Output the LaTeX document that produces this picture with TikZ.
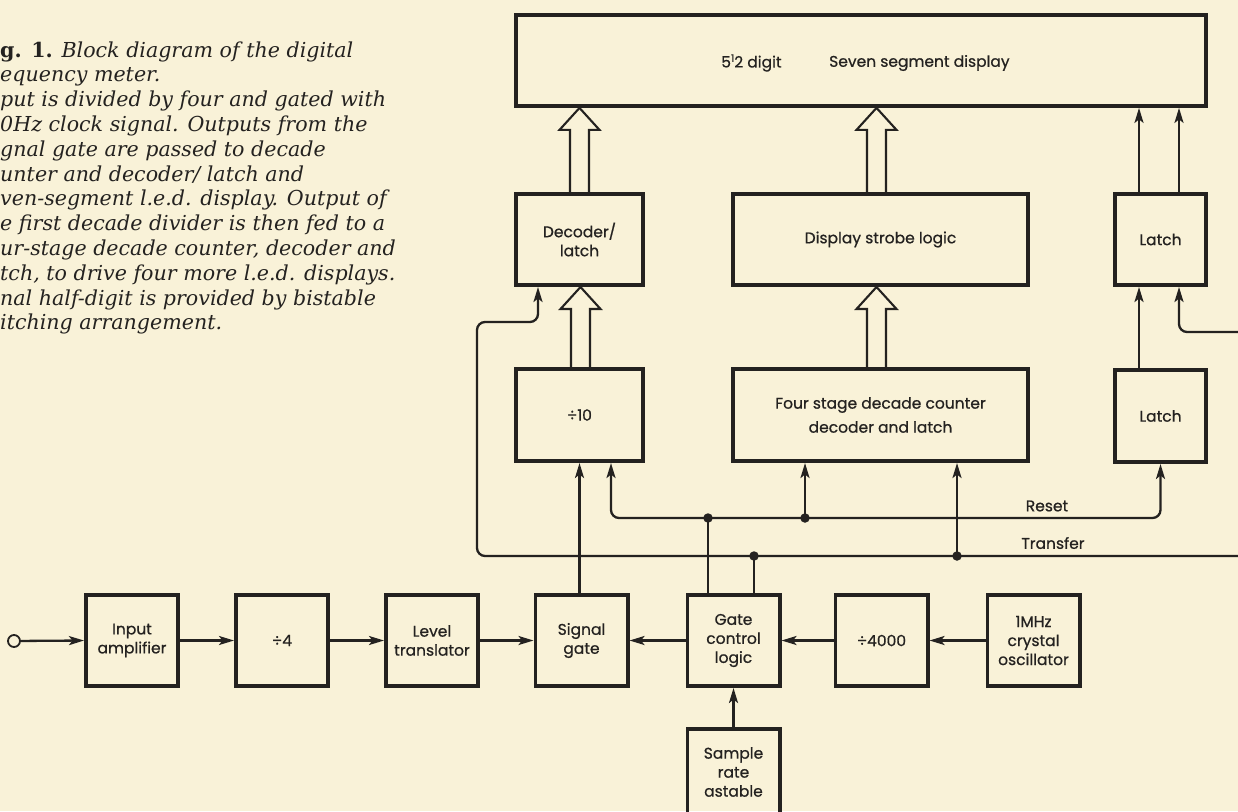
\documentclass[tikz,border=0pt]{standalone}
\usepackage{fontspec}
\setmainfont{DejaVu Serif}
\newfontfamily\diag[FakeBold=0.7]{Poppins}
\usetikzlibrary{arrows.meta,calc}
\definecolor{paper}{RGB}{249,242,216}
\definecolor{ink}{RGB}{36,34,32}
\newcommand{\hollowup}[2]{%
  \draw[hollow] ($(#1)+(-9.5,0)$) -- ($(#2)+(-9.5,22)$) -- ($(#2)+(-20,22)$) -- (#2)
    -- ($(#2)+(20,22)$) -- ($(#2)+(9.5,22)$) -- ($(#1)+(9.5,0)$);}
\begin{document}
\begin{tikzpicture}[x=1pt,y=-1pt,
  box/.style={draw=ink, line width=3.8pt, inner sep=0pt, align=center, text=ink,
    font=\diag\fontsize{15.5}{19}\selectfont},
  conn/.style={draw=ink, line width=2.3pt},
  arr/.style={conn, -{Stealth[length=15pt,width=9pt,inset=3.5pt]}},
  hollow/.style={draw=ink, line width=2.1pt, line join=miter},
  dot/.style={circle, fill=ink, inner sep=0pt, minimum size=9.5pt},
  lbl/.style={inner sep=0pt, text=ink, font=\diag\fontsize{15.5}{19}\selectfont},
  capt/.style={inner sep=0pt, text=ink, anchor=base west, font=\itshape\fontsize{20.6}{25}\selectfont}]
\fill[paper] (0,0) rectangle (1238,811);
\useasboundingbox (0,0) rectangle (1238,811);

% caption
\node[capt] (cap1) at (0,57) {{\upshape\bfseries g. 1.} Block diagram of the digital};
\node[capt] (cap2) at (0,81.8) {equency meter.};
\node[capt] (cap3) at (0,106.6) {put is divided by four and gated with};
\node[capt] (cap4) at (0,131.4) {0Hz clock signal. Outputs from the};
\node[capt] (cap5) at (0,156.2) {gnal gate are passed to decade};
\node[capt] (cap6) at (0,181) {unter and decoder/ latch and};
\node[capt] (cap7) at (0,205.8) {ven-segment l.e.d. display. Output of};
\node[capt] (cap8) at (0,230.6) {e first decade divider is then fed to a};
\node[capt] (cap9) at (0,255.4) {ur-stage decade counter, decoder and};
\node[capt] (cap10) at (0,280.2) {tch, to drive four more l.e.d. displays.};
\node[capt] (cap11) at (0,305) {nal half-digit is provided by bistable};
\node[capt] (cap12) at (0,329.8) {itching arrangement.};

% boxes
\node[box, minimum width=690pt, minimum height=91pt] (top) at (861,60.5) {};
\node[lbl, anchor=west] (digit) at (721,63) {5\raisebox{5.5pt}{\fontsize{10.5}{10.5}\selectfont 1}2 digit};
\node[lbl, anchor=west] (seven) at (829,63) {Seven segment display};

\node[box, minimum width=127.2pt, minimum height=91.2pt] (dec) at (579.5,239.5) {Decoder/\\latch};
\node[box, minimum width=295.2pt, minimum height=91.2pt] (strobe) at (880.5,239.5) {Display strobe logic};
\node[box, minimum width=91.2pt, minimum height=91.2pt] (latch1) at (1160.5,239.5) {Latch};

\node[box, minimum width=127.2pt, minimum height=92.2pt] (div10) at (579.5,415) {÷10};
\node[box, minimum width=295.2pt, minimum height=92.2pt, font=\diag\fontsize{15.5}{24}\selectfont] (four) at (880.5,415) {Four stage decade counter\\decoder and latch};
\node[box, minimum width=91.2pt, minimum height=92.2pt] (latch2) at (1160.5,416) {Latch};

\node[box, minimum width=92.2pt, minimum height=91.2pt] (inamp) at (132,640.5) {Input\\amplifier};
\node[box, minimum width=92.2pt, minimum height=91.2pt] (div4) at (282,640.5) {÷4};
\node[box, minimum width=92.2pt, minimum height=91.2pt] (level) at (432,640.5) {Level\\translator};
\node[box, minimum width=92.2pt, minimum height=91.2pt] (sgate) at (581.5,640.5) {Signal\\gate};
\node[box, minimum width=92.2pt, minimum height=91.2pt] (gcl) at (733.5,640.5) {Gate\\control\\logic};
\node[box, minimum width=92.2pt, minimum height=91.2pt] (div4000) at (881.5,640.5) {÷4000};
\node[box, minimum width=92.2pt, minimum height=91.2pt] (osc) at (1033.5,640.5) {1MHz\\crystal\\oscillator};
\node[box, minimum width=92.2pt, minimum height=120pt, anchor=north] (sample) at (733.5,727) {};
\node[lbl, align=center] (samplelbl) at (733.5,772) {Sample\\rate\\astable};

% input terminal
\node[circle, draw=ink, line width=1.8pt, minimum size=12pt, inner sep=0pt] (in) at (14,641) {};

% bottom row connectors
\draw[arr] (in) -- (inamp.west);
\draw[arr] (inamp) -- (div4);
\draw[arr] (div4) -- (level);
\draw[arr] (level) -- (sgate);
\draw[arr] (gcl) -- (sgate);
\draw[arr] (div4000) -- (gcl);
\draw[arr] (osc) -- (div4000);
\draw[arr] (sample.north) -- (gcl.south);

% signal gate to /10
\draw[arr] (sgate.north -| div10.south) -- (div10.south);

% reset line
\coordinate (gA) at ([xshift=-25.5pt]gcl.north);
\coordinate (gB) at ([xshift=20.5pt]gcl.north);
\coordinate (rj1) at (708,518);
\coordinate (rj2) at (805,518);
\coordinate (rL) at (611,518);
\coordinate (rR) at (1160.5,518);
\draw[conn] (gA) -- (rj1);
\draw[arr, rounded corners=8pt] (rj1) -- (rL) -- (rL |- div10.south);
\draw[arr, rounded corners=8pt] (rj1) -- (rR) -- (latch2.south);
\draw[arr] (rj2) -- (rj2 |- four.south);

% transfer line
\coordinate (tj1) at (754,556);
\coordinate (tj2) at (957,556);
\coordinate (tR) at (1240,556);
\coordinate (tL) at (477,556);
\coordinate (tU) at (477,322);
\coordinate (tD) at (538,322);
\draw[conn] (gB) -- (tj1);
\draw[arr, rounded corners=8pt] (tR) -- (tL) -- (tU) -- (tD) -- (tD |- dec.south);
\draw[arr] (tj2) -- (tj2 |- four.south);

\node[dot] (d1) at (rj1) {};
\node[dot] (d2) at (rj2) {};
\node[dot] (d3) at (tj1) {};
\node[dot] (d4) at (tj2) {};

\node[lbl] (reset) at (1047,506) {Reset};
\node[lbl] (transfer) at (1053,543) {Transfer};

% latch connections
\coordinate (lA) at ([xshift=-21.5pt]latch2.north);
\draw[arr] (lA) -- (lA |- latch1.south);
\coordinate (lB) at (1179,332);
\coordinate (lBr) at (1240,332);
\draw[arr, rounded corners=8pt] (lBr) -- (lB) -- (lB |- latch1.south);
\coordinate (lC) at ([xshift=-21.5pt]latch1.north);
\coordinate (lD) at ([xshift=18.5pt]latch1.north);
\draw[arr] (lC) -- (lC |- top.south);
\draw[arr] (lD) -- (lD |- top.south);

% hollow bus arrows
\coordinate (h1b) at ([xshift=1pt]div10.north);
\coordinate (h1t) at (h1b |- dec.south);
\hollowup{h1b}{h1t}
\coordinate (h2b) at ([xshift=0pt]dec.north);
\coordinate (h2t) at (h2b |- top.south);
\hollowup{h2b}{h2t}
\coordinate (h3b) at ([xshift=-4pt]four.north);
\coordinate (h3t) at (h3b |- strobe.south);
\hollowup{h3b}{h3t}
\coordinate (h4b) at ([xshift=-4pt]strobe.north);
\coordinate (h4t) at (h4b |- top.south);
\hollowup{h4b}{h4t}
\end{tikzpicture}
\end{document}
